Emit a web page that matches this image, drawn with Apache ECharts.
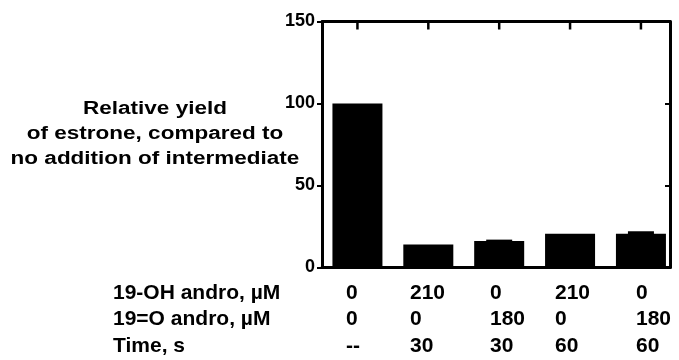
<!DOCTYPE html>
<html>
<head>
<meta charset="utf-8">
<script src="https://cdn.jsdelivr.net/npm/echarts@6/dist/echarts.min.js"></script>
<style>html,body{margin:0;padding:0;background:#fff;}#c{width:679px;height:360px;}</style>
</head>
<body>
<div id="c"></div>
<script>
// Data
const conditions = ['control', '19-OH 30s', '19=O 30s', '19-OH 60s', '19=O 60s'];
const yieldValues = [100, 14.1, 16.2, 20.6, 20.6];
const yieldErrors = [0, 0, 0.8, 0, 1.5];
const yTicks = [0, 50, 100, 150];
const rowLabels = ['19-OH andro, \u00b5M', '19=O andro, \u00b5M', 'Time, s'];
const ohAndro = ['0', '210', '0', '210', '0'];
const oxoAndro = ['0', '0', '180', '0', '180'];
const timeS = ['--', '30', '30', '60', '60'];
const titleLines = ['Relative yield', 'of estrone, compared to', 'no addition of intermediate'];

const FONT = '"Liberation Sans", Arial, Helvetica, sans-serif';
const Y_MAX = yTicks[yTicks.length - 1];
const chart = echarts.init(document.getElementById('c'), null, {renderer: 'canvas'});

const barData = yieldValues.map((v, i) => [i, v]);
const errData = yieldValues.map((v, i) => [i, v, yieldErrors[i]]);

const graphics = [];
// Y-axis title (horizontally stretched as in reference)
const titleY = [109, 134, 159];
titleLines.forEach((t, k) => {
  graphics.push({
    type: 'text', x: 155, y: titleY[k], scaleX: 1.25,
    style: {text: t, x: 0, y: 0, textAlign: 'center', textVerticalAlign: 'middle',
      fontFamily: FONT, fontWeight: 'bold', fontSize: 18, fill: '#000'}
  });
});
// Condition table
const rowY = [293.5, 319.5, 346.5];
const colX = [346, 410, 490, 555, 636];
const rows = [ohAndro, oxoAndro, timeS];
rowLabels.forEach((lab, r) => {
  graphics.push({
    type: 'text', x: 113, y: rowY[r],
    style: {text: lab, textAlign: 'left', textVerticalAlign: 'middle',
      fontFamily: FONT, fontWeight: 'bold', fontSize: 21, fill: '#000'}
  });
  rows[r].forEach((v, c) => {
    graphics.push({
      type: 'text', x: colX[c], y: rowY[r],
      style: {text: v, textAlign: 'left', textVerticalAlign: 'middle',
        fontFamily: FONT, fontWeight: 'bold', fontSize: 21, fill: '#000'}
    });
  });
});

const lineStyle = {color: '#000', width: 3};
chart.setOption({
  animation: false,
  backgroundColor: '#fff',
  grid: {left: 322, width: 348, top: 21.5, height: 246, containLabel: false},
  xAxis: [
    {type: 'value', position: 'bottom', min: -0.5, max: 4.41,
      axisLine: {show: true, onZero: false, lineStyle: lineStyle}, axisTick: {show: false},
      axisLabel: {show: false}, splitLine: {show: false}},
    {type: 'value', position: 'top', min: -0.5, max: 4.41,
      axisLine: {show: true, onZero: false, lineStyle: lineStyle},
      axisTick: {show: false}, axisLabel: {show: false}, splitLine: {show: false}}
  ],
  yAxis: [
    {type: 'value', position: 'left', min: 0, max: Y_MAX, interval: 50,
      axisLine: {show: true, onZero: false, lineStyle: lineStyle},
      axisTick: {show: true, inside: false, length: 5, lineStyle: {color: '#000', width: 2}},
      axisLabel: {show: true, margin: 7, color: '#000', fontFamily: FONT, fontWeight: 'bold', fontSize: 18,
        formatter: v => yTicks.indexOf(v) >= 0 ? String(v) : ''},
      splitLine: {show: false}},
    {type: 'value', position: 'right', min: 0, max: Y_MAX, interval: 50,
      axisLine: {show: true, onZero: false, lineStyle: lineStyle},
      axisTick: {show: true, inside: true, length: 5, lineStyle: {color: '#000', width: 2}},
      axisLabel: {show: false}, splitLine: {show: false}}
  ],
  series: [
    {type: 'bar', xAxisIndex: 0, yAxisIndex: 0, data: barData, barWidth: 50,
      itemStyle: {color: '#000'}, z: 1},
    {type: 'custom', xAxisIndex: 0, yAxisIndex: 0, data: errData, z: 5,
      renderItem: function (params, api) {
        const i = api.value(0), v = api.value(1), e = api.value(2);
        const children = [];
        // top-frame tick at each condition (position from the axis scale)
        const pA = api.coord([i, 0]);
        const pB = api.coord([i, 100]);
        const yTop = pA[1] + (pB[1] - pA[1]) * (Y_MAX / 100);
        children.push({type: 'rect', shape: {x: pA[0] - 1.25, y: yTop, width: 2.5, height: 8},
          style: {fill: '#000'}});
        if (e) {
          const p0 = api.coord([i, v]);
          const p1 = api.coord([i, v + e]);
          children.push({type: 'rect', shape: {x: p0[0] - 13, y: p1[1], width: 26, height: p0[1] - p1[1] + 1},
            style: {fill: '#000'}});
        }
        return {type: 'group', children: children};
      }}
  ],
  graphic: graphics
});
</script>
</body>
</html>
